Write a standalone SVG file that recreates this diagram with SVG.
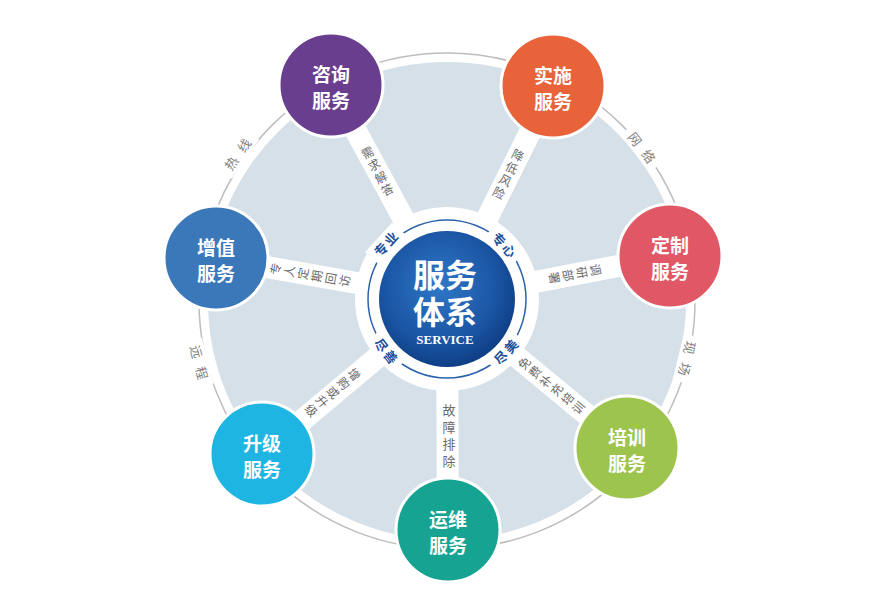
<svg xmlns="http://www.w3.org/2000/svg" width="888" height="601" viewBox="0 0 888 601">
  <defs>
    <radialGradient id="core" cx="0.45" cy="0.4" r="0.6">
      <stop offset="0" stop-color="#2f78c8"/>
      <stop offset="0.7" stop-color="#1a55a3"/>
      <stop offset="1" stop-color="#0f3f86"/>
    </radialGradient>
    <style>
      .node circle { stroke: #ffffff; stroke-width: 3; }
      .nt { font-family: "Noto Sans CJK SC", "Noto Sans", sans-serif; font-size: 19px; font-weight: 700; fill: #ffffff; text-anchor: middle; }
      .spoke { stroke: #ffffff; stroke-width: 22; stroke-linecap: butt; }
      .sl { font-family: "Noto Sans CJK SC", sans-serif; font-size: 12px; fill: #6a6a6a; writing-mode: vertical-rl; text-anchor: middle; letter-spacing: 2px; }
      .ol { font-family: "Noto Sans CJK SC", sans-serif; font-size: 13px; fill: #808080; text-anchor: middle; letter-spacing: 9px; }
      .il { font-family: "Noto Sans CJK SC", sans-serif; font-size: 13px; font-weight: 700; fill: #1d4f9a; text-anchor: middle; letter-spacing: 2px; }
      .ct { font-family: "Liberation Sans", "Noto Sans CJK SC", sans-serif; font-size: 32px; font-weight: 700; fill: #ffffff; text-anchor: middle; }
    </style>
  </defs>
  <rect width="888" height="601" fill="#ffffff"/>

  <!-- outer ring -->
  <g id="ring">
    <circle cx="447" cy="301" r="248" fill="#ffffff" stroke="#bdbdbd" stroke-width="1.5"/>
    <circle cx="447" cy="301" r="239" fill="#d5e0e8"/>
  </g>

  <!-- connectors -->
  <g id="connectors">
    <line class="spoke" x1="447" y1="299" x2="331" y2="85"/>
    <line class="spoke" x1="447" y1="299" x2="553" y2="86"/>
    <line class="spoke" x1="447" y1="299" x2="670" y2="256"/>
    <line class="spoke" x1="447" y1="299" x2="627" y2="448"/>
    <line class="spoke" x1="447" y1="299" x2="448" y2="530"/>
    <line class="spoke" x1="447" y1="299" x2="262" y2="454"/>
    <line class="spoke" x1="447" y1="299" x2="216" y2="258"/>
  </g>

  <!-- center -->
  <g id="center">
    <circle cx="447" cy="299" r="92" fill="#ffffff"/>
    <circle cx="447" cy="299" r="79" fill="none" stroke="#2a62ad" stroke-width="1.5"/>
    <circle cx="447" cy="299" r="68" fill="url(#core)"/>
    <g transform="translate(386,244) rotate(-47.5)"><rect x="-20" y="-10" width="40" height="20" fill="#ffffff"/><text class="il" x="1" y="5">专业</text></g>
    <g transform="translate(504,245) rotate(46.5)"><rect x="-20" y="-10" width="40" height="20" fill="#ffffff"/><text class="il" x="1" y="5">专心</text></g>
    <g transform="translate(386,351) rotate(51)"><rect x="-20" y="-10" width="40" height="20" fill="#ffffff"/><text class="il" x="1" y="5">尽善</text></g>
    <g transform="translate(506,352) rotate(-48)"><rect x="-20" y="-10" width="40" height="20" fill="#ffffff"/><text class="il" x="1" y="5">尽美</text></g>
    <text class="ct" x="445" y="287">服务</text>
    <text class="ct" x="445" y="324">体系</text>
    <text x="445" y="344" font-family="Liberation Serif, serif" font-size="13" font-weight="700" fill="#ffffff" text-anchor="middle">SERVICE</text>
  </g>

  <!-- spoke labels -->
  <g id="spoke-labels">
    <g transform="translate(378,172) rotate(-28)"><text class="sl" x="0" y="0">需求解答</text></g>
    <g transform="translate(508,175) rotate(26.7)"><text class="sl" x="0" y="0">降低风险</text></g>
    <g transform="translate(574,274) rotate(79)"><text class="sl" x="0" y="0">调研部署</text></g>
    <g transform="translate(552,386) rotate(-50.5)"><text class="sl" x="0" y="0">免费补充培训</text></g>
    <g transform="translate(449,438)"><text class="sl" x="0" y="0" style="letter-spacing:4px;font-size:13px">故障排除</text></g>
    <g transform="translate(332,393) rotate(50)"><text class="sl" x="0" y="0">增购或升级</text></g>
    <g transform="translate(311,275) rotate(-80)"><text class="sl" x="0" y="0">专人定期回访</text></g>
  </g>

  <!-- outer labels -->
  <g id="outer-labels">
    <g transform="translate(238,154) rotate(-55)"><rect x="-24" y="-9" width="48" height="18" fill="#ffffff"/><text class="ol" x="4" y="5">热线</text></g>
    <g transform="translate(642,148) rotate(52)"><rect x="-24" y="-9" width="48" height="18" fill="#ffffff"/><text class="ol" x="4" y="5">网络</text></g>
    <g transform="translate(687,359) rotate(103.5)"><rect x="-24" y="-9" width="48" height="18" fill="#ffffff"/><text class="ol" x="4" y="5">现场</text></g>
    <g transform="translate(199,363) rotate(75.5)"><rect x="-24" y="-9" width="48" height="18" fill="#ffffff"/><text class="ol" x="4" y="5">远程</text></g>
  </g>

  <!-- nodes -->
  <g id="node-zixun" class="node"><circle cx="331" cy="85" r="52" fill="#6a3e8f"/><text class="nt" x="331" y="82">咨询</text><text class="nt" x="331" y="108">服务</text></g>
  <g id="node-shishi" class="node"><circle cx="553" cy="86" r="52" fill="#e8623a"/><text class="nt" x="553" y="83">实施</text><text class="nt" x="553" y="109">服务</text></g>
  <g id="node-dingzhi" class="node"><circle cx="670" cy="256" r="52" fill="#e05865"/><text class="nt" x="670" y="253">定制</text><text class="nt" x="670" y="279">服务</text></g>
  <g id="node-peixun" class="node"><circle cx="627" cy="448" r="52" fill="#9dc44d"/><text class="nt" x="627" y="445">培训</text><text class="nt" x="627" y="471">服务</text></g>
  <g id="node-yunwei" class="node"><circle cx="448" cy="530" r="52" fill="#17a392"/><text class="nt" x="448" y="527">运维</text><text class="nt" x="448" y="553">服务</text></g>
  <g id="node-shengji" class="node"><circle cx="262" cy="454" r="52" fill="#1eb5e2"/><text class="nt" x="262" y="451">升级</text><text class="nt" x="262" y="477">服务</text></g>
  <g id="node-zengzhi" class="node"><circle cx="216" cy="258" r="52" fill="#3b78b9"/><text class="nt" x="216" y="255">增值</text><text class="nt" x="216" y="281">服务</text></g>
</svg>
